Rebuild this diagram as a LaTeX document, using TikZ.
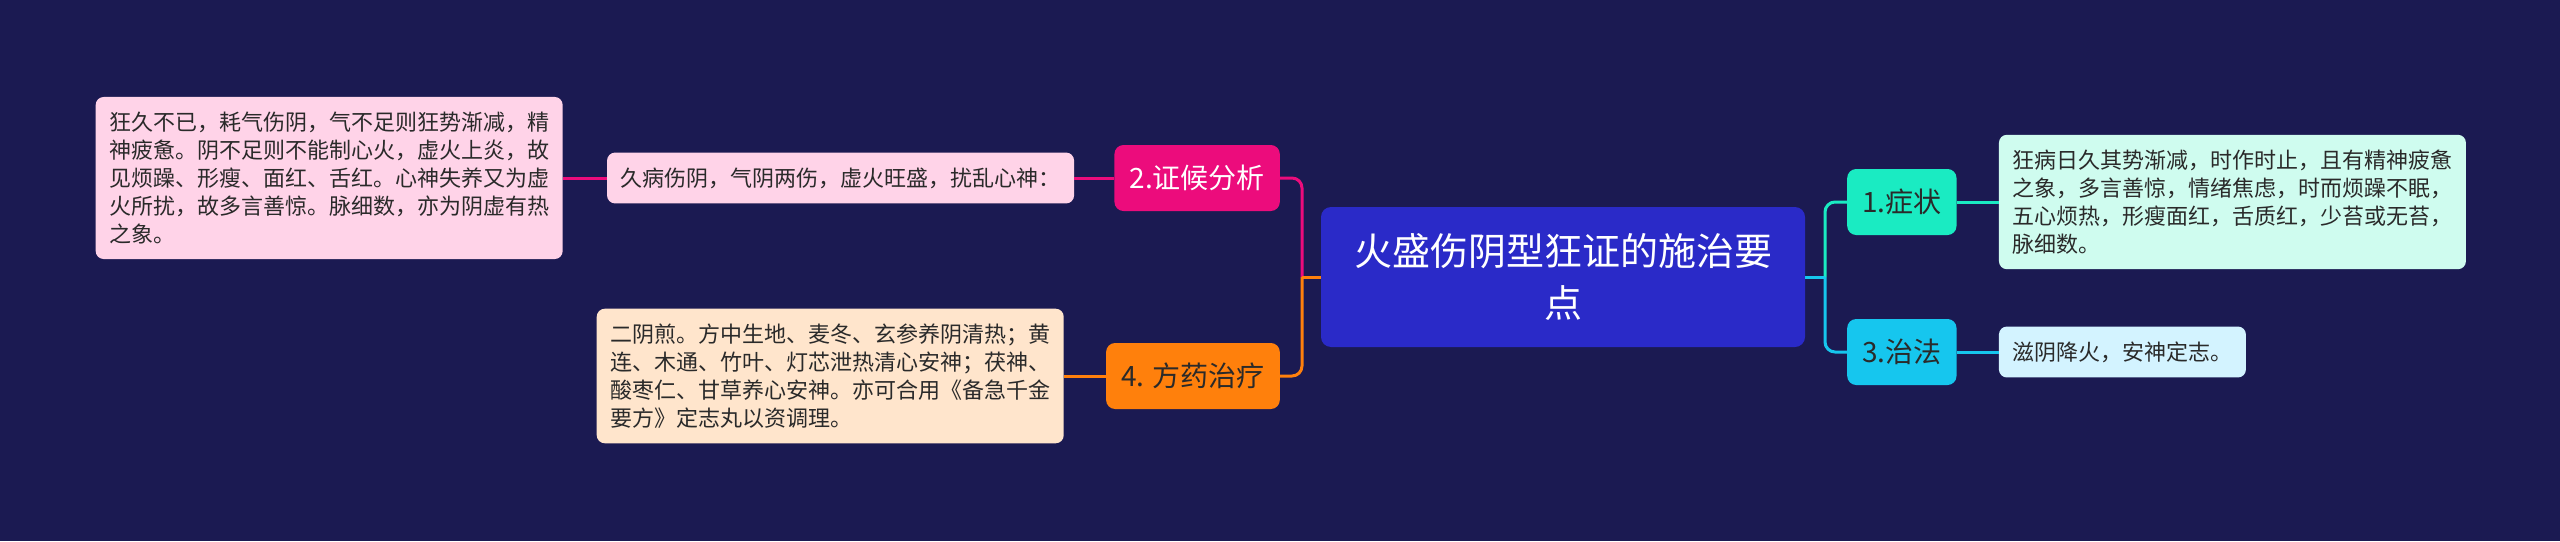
\documentclass[tikz,border=0pt]{standalone}
\usepackage{fontspec}
\setmainfont{Noto Sans CJK SC}
\usetikzlibrary{positioning}

\definecolor{bgnavy}{HTML}{1B1A52}
\definecolor{rootblue}{HTML}{2A2AC8}
\definecolor{rosered}{HTML}{EC0C7C}
\definecolor{rosepale}{HTML}{FFD3E8}
\definecolor{amber}{HTML}{FF800C}
\definecolor{amberpale}{HTML}{FFE5CC}
\definecolor{mint}{HTML}{1AEBC2}
\definecolor{mintpale}{HTML}{CFFCEF}
\definecolor{skyblue}{HTML}{16C6EE}
\definecolor{skypale}{HTML}{D3F3FF}
\definecolor{inkdark}{HTML}{2A2A2A}

\begin{document}
\begin{tikzpicture}[x=1pt, y=-1pt,
      root/.style={fill=rootblue, text=white, rounded corners=10pt, align=center,
        minimum width=484pt, minimum height=140pt, font=\fontsize{38}{52}\selectfont},
      branch/.style={rounded corners=9pt, minimum height=66pt, inner xsep=15pt,
        font=\fontsize{28}{34}\selectfont},
      leaf/.style={rounded corners=8pt, align=left, inner xsep=13.5pt, inner ysep=15pt,
        text=inkdark, font=\fontsize{22}{28}\selectfont},
      link/.style={line width=3pt, rounded corners=10pt}
    ]

    % --- background ---
    \fill[bgnavy] (0,0) rectangle (2560,541);

    % --- central topic ---
    \node[root] (root) at (1563,277) {火盛伤阴型狂证的施治要\\点};

    % ---- left side: 2. syndrome ----
    \node[branch, fill=rosered, text=white, anchor=east] (syndrome) at (1280,178) {2.证候分析};
    \node[leaf, fill=rosepale, left=40pt of syndrome] (cause) {久病伤阴，气阴两伤，虚火旺盛，扰乱心神：};
    \node[leaf, fill=rosepale, left=44pt of cause] (detail) {狂久不已，耗气伤阴，气不足则狂势渐减，精\\
      神疲惫。阴不足则不能制心火，虚火上炎，故\\
      见烦躁、形瘦、面红、舌红。心神失养又为虚\\
      火所扰，故多言善惊。脉细数，亦为阴虚有热\\
      之象。};

    % ---- left side: 4. formula ----
    \node[branch, fill=amber, text=inkdark, anchor=east] (formula) at (1280,376) {4. 方药治疗};
    \node[leaf, fill=amberpale, left=42pt of formula] (recipe) {二阴煎。方中生地、麦冬、玄参养阴清热；黄\\
      连、木通、竹叶、灯芯泄热清心安神；茯神、\\
      酸枣仁、甘草养心安神。亦可合用《备急千金\\
      要方》定志丸以资调理。};

    % ---- right side: 1. symptoms, 3. therapy ----
    \node[branch, fill=mint, text=inkdark, anchor=west] (symptom) at (1847,202) {1.症状};
    \node[leaf, fill=mintpale, right=42pt of symptom] (signs) {狂病日久其势渐减，时作时止，且有精神疲惫\\
      之象，多言善惊，情绪焦虑，时而烦躁不眠，\\
      五心烦热，形瘦面红，舌质红，少苔或无苔，\\
      脉细数。};
    \node[branch, fill=skyblue, text=inkdark, anchor=west] (therapy) at (1847,352) {3.治法};
    \node[leaf, fill=skypale, right=42pt of therapy] (method) {滋阴降火，安神定志。};

    % --- connectors ---
    \coordinate (ljoint) at (1302,277);
    \coordinate (rjoint) at (1825,277);
    \draw[link, rosered] (ljoint) |- (syndrome.east);
    \draw[link, amber] (ljoint) |- (formula.east);
    \draw[link, amber] (root.west) -- (ljoint);
    \draw[link, mint] (rjoint) |- (symptom.west);
    \draw[link, skyblue] (rjoint) |- (therapy.west);
    \draw[link, skyblue] (root.east) -- (rjoint);
    \foreach \from/\to/\col in {syndrome/cause/rosered, cause/detail/rosered, formula/recipe/amber} {
      \draw[link, \col] (\from.west) -- (\to.east);
    }
    \foreach \from/\to/\col in {symptom/signs/mint, therapy/method/skyblue} {
      \draw[link, \col] (\from.east) -- (\to.west);
    }

  \end{tikzpicture}
\end{document}
